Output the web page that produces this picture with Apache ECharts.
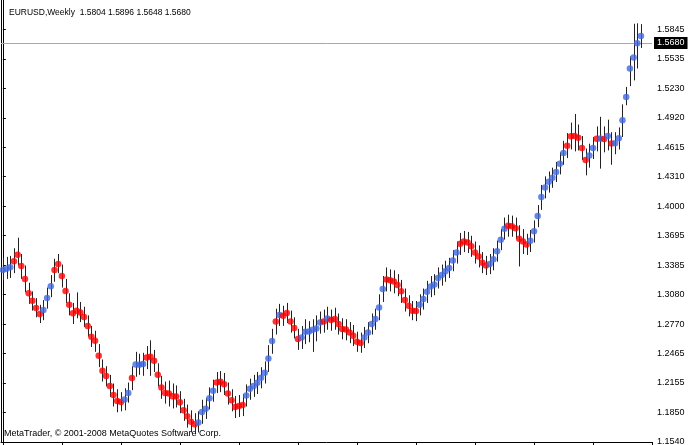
<!DOCTYPE html>
<html>
<head>
<meta charset="utf-8">
<title>EURUSD Weekly</title>
<script src="https://cdn.jsdelivr.net/npm/echarts@6.0.0/dist/echarts.min.js"></script>
<style>
    html, body { margin: 0; padding: 0; background: #fff; }
    #chart { width: 688px; height: 445px; }
</style>
</head>
<body>
<div id="chart"></div>
<script>
// weekly bars, oldest first
var high = [
    1.3460, 1.3470, 1.3480, 1.3560, 1.3670, 1.3500, 1.3380, 1.3200, 1.3110, 1.3040,
    1.2970, 1.3020, 1.3150, 1.3280, 1.3450, 1.3500, 1.3390, 1.3240, 1.3090, 1.2990,
    1.3100, 1.3000, 1.2950, 1.2860, 1.2750, 1.2700, 1.2560, 1.2400, 1.2330, 1.2240,
    1.2150, 1.2090, 1.2060, 1.2100, 1.2160, 1.2330, 1.2480, 1.2460, 1.2470, 1.2540,
    1.2600, 1.2500, 1.2360, 1.2230, 1.2170, 1.2180, 1.2150, 1.2130, 1.2070, 1.1990,
    1.1930, 1.1870, 1.1840, 1.1860, 1.1980, 1.2000, 1.2110, 1.2190, 1.2270, 1.2280,
    1.2260, 1.2160, 1.2090, 1.2020, 1.2030, 1.2040, 1.2140, 1.2200, 1.2240, 1.2270,
    1.2320, 1.2380, 1.2550, 1.2720, 1.2930, 1.2980, 1.2960, 1.2990, 1.2910, 1.2840,
    1.2720, 1.2750, 1.2820, 1.2800, 1.2820, 1.2860, 1.2900, 1.2920, 1.2950, 1.2920,
    1.2940, 1.2880, 1.2830, 1.2820, 1.2790, 1.2760, 1.2690, 1.2680, 1.2740, 1.2790,
    1.2880, 1.2930, 1.3080, 1.3270, 1.3360, 1.3340, 1.3330, 1.3290, 1.3230, 1.3140,
    1.3070, 1.3010, 1.3010, 1.3080, 1.3140, 1.3220, 1.3270, 1.3290, 1.3360, 1.3390,
    1.3430, 1.3460, 1.3540, 1.3630, 1.3720, 1.3740, 1.3730, 1.3690, 1.3630, 1.3590,
    1.3520, 1.3480, 1.3500, 1.3560, 1.3640, 1.3760, 1.3880, 1.3910, 1.3900, 1.3880,
    1.3800, 1.3760, 1.3710, 1.3750, 1.3850, 1.4010, 1.4220, 1.4310, 1.4360, 1.4400,
    1.4460, 1.4560, 1.4680, 1.4760, 1.4870, 1.4960, 1.4850, 1.4730, 1.4600, 1.4650,
    1.4720, 1.4830, 1.4930, 1.4830, 1.4900, 1.4770, 1.4770, 1.4820, 1.5060, 1.5242,
    1.5560, 1.5900, 1.5905, 1.5896
];
var low = [
    1.3225, 1.3240, 1.3250, 1.3300, 1.3380, 1.3240, 1.3100, 1.2980, 1.2910, 1.2840,
    1.2780, 1.2810, 1.2930, 1.3050, 1.3210, 1.3300, 1.3150, 1.2990, 1.2860, 1.2770,
    1.2830, 1.2790, 1.2740, 1.2640, 1.2530, 1.2480, 1.2320, 1.2170, 1.2120, 1.2010,
    1.1910, 1.1850, 1.1860, 1.1870, 1.1950, 1.2080, 1.2220, 1.2240, 1.2230, 1.2300,
    1.2230, 1.2270, 1.2120, 1.1990, 1.1940, 1.1910, 1.1890, 1.1900, 1.1840, 1.1760,
    1.1690, 1.1640, 1.1620, 1.1640, 1.1730, 1.1780, 1.1880, 1.1960, 1.2050, 1.2060,
    1.2030, 1.1930, 1.1860, 1.1790, 1.1800, 1.1810, 1.1910, 1.1980, 1.2010, 1.2040,
    1.2100, 1.2150, 1.2270, 1.2460, 1.2660, 1.2750, 1.2750, 1.2780, 1.2680, 1.2620,
    1.2500, 1.2510, 1.2560, 1.2580, 1.2480, 1.2590, 1.2670, 1.2680, 1.2710, 1.2700,
    1.2710, 1.2660, 1.2610, 1.2600, 1.2570, 1.2540, 1.2480, 1.2470, 1.2520, 1.2570,
    1.2660, 1.2710, 1.2810, 1.3000, 1.3110, 1.3110, 1.3090, 1.3060, 1.2990, 1.2900,
    1.2850, 1.2810, 1.2800, 1.2860, 1.2920, 1.2990, 1.3050, 1.3070, 1.3140, 1.3170,
    1.3210, 1.3250, 1.3320, 1.3400, 1.3490, 1.3520, 1.3510, 1.3470, 1.3400, 1.3360,
    1.3300, 1.3280, 1.3290, 1.3330, 1.3420, 1.3540, 1.3650, 1.3680, 1.3680, 1.3660,
    1.3370, 1.3500, 1.3490, 1.3520, 1.3620, 1.3780, 1.3960, 1.4080, 1.4140, 1.4190,
    1.4250, 1.4330, 1.4430, 1.4500, 1.4590, 1.4570, 1.4580, 1.4480, 1.4320, 1.4400,
    1.4490, 1.4570, 1.4390, 1.4560, 1.4580, 1.4430, 1.4540, 1.4590, 1.4720, 1.5051,
    1.5250, 1.5310, 1.5434, 1.5648
];
// the coloured dot drawn on every bar
var signal = [
    1.3334, 1.3345, 1.3361, 1.3424, 1.3491, 1.3376, 1.3240, 1.3090, 1.3013, 1.2937,
    1.2874, 1.2916, 1.3042, 1.3163, 1.3334, 1.3397, 1.3271, 1.3115, 1.2972, 1.2881,
    1.2909, 1.2891, 1.2843, 1.2749, 1.2637, 1.2595, 1.2439, 1.2282, 1.2227, 1.2125,
    1.2031, 1.1968, 1.1958, 1.1982, 1.2052, 1.2206, 1.2348, 1.2345, 1.2352, 1.2421,
    1.2428, 1.2386, 1.2240, 1.2107, 1.2052, 1.2045, 1.2018, 1.2015, 1.1955, 1.1871,
    1.1809, 1.1752, 1.1725, 1.1742, 1.1854, 1.1887, 1.1997, 1.2073, 1.2160, 1.2167,
    1.2143, 1.2045, 1.1976, 1.1906, 1.1916, 1.1927, 1.2024, 1.2094, 1.2125, 1.2157,
    1.2209, 1.2261, 1.2410, 1.2592, 1.2797, 1.2864, 1.2857, 1.2885, 1.2797, 1.2728,
    1.2613, 1.2630, 1.2689, 1.2692, 1.2710, 1.2724, 1.2787, 1.2797, 1.2828, 1.2812,
    1.2822, 1.2770, 1.2718, 1.2712, 1.2682, 1.2648, 1.2585, 1.2571, 1.2630, 1.2682,
    1.2770, 1.2822, 1.2943, 1.3136, 1.3233, 1.3225, 1.3212, 1.3177, 1.3111, 1.3021,
    1.2961, 1.2909, 1.2905, 1.2972, 1.3031, 1.3107, 1.3160, 1.3181, 1.3251, 1.3282,
    1.3320, 1.3355, 1.3431, 1.3515, 1.3606, 1.3630, 1.3619, 1.3581, 1.3515, 1.3473,
    1.3410, 1.3379, 1.3397, 1.3445, 1.3528, 1.3648, 1.3763, 1.3794, 1.3790, 1.3769,
    1.3658, 1.3630, 1.3598, 1.3637, 1.3737, 1.3896, 1.4093, 1.4194, 1.4252, 1.4295,
    1.4354, 1.4442, 1.4552, 1.4628, 1.4727, 1.4730, 1.4713, 1.4605, 1.4479, 1.4526,
    1.4605, 1.4701, 1.4703, 1.4699, 1.4730, 1.4651, 1.4655, 1.4706, 1.4894, 1.5138,
    1.5434, 1.5549, 1.5696, 1.5772
];
// 1 = blue (up), 0 = red (down)
var trend = [
    1, 1, 1, 0, 0, 0, 0, 0, 0, 0,
    0, 1, 1, 1, 0, 0, 0, 0, 0, 0,
    0, 0, 0, 0, 0, 0, 0, 0, 0, 0,
    0, 0, 0, 1, 1, 0, 1, 1, 1, 0,
    0, 0, 0, 0, 0, 0, 0, 0, 0, 0,
    0, 0, 0, 1, 1, 1, 1, 1, 0, 0,
    0, 0, 0, 0, 0, 0, 1, 1, 1, 1,
    1, 1, 1, 1, 0, 1, 0, 0, 0, 0,
    0, 1, 1, 1, 1, 1, 1, 0, 1, 0,
    0, 0, 0, 0, 0, 0, 0, 0, 1, 1,
    1, 1, 1, 1, 0, 0, 0, 0, 0, 0,
    0, 0, 0, 1, 1, 1, 1, 1, 1, 1,
    1, 1, 1, 1, 0, 0, 0, 0, 0, 0,
    0, 0, 1, 1, 1, 1, 1, 0, 0, 0,
    0, 0, 0, 1, 1, 1, 1, 1, 1, 1,
    1, 1, 1, 0, 0, 0, 0, 0, 0, 1,
    1, 0, 1, 0, 1, 0, 1, 1, 1, 1,
    1, 1, 1, 1
];
// last bar: open, high, low, close
var lastOHLC = [1.5804, 1.5896, 1.5648, 1.5680];
var priceTicks = [1.1540, 1.1850, 1.2155, 1.2465, 1.2770, 1.3080, 1.3385, 1.3695,
    1.4000, 1.4310, 1.4615, 1.4920, 1.5230, 1.5535, 1.5845];
// time separators, in bars
var timeTicks = [0, 16, 32, 48, 64, 80, 96, 112, 128, 144, 160, 176];

var FONT = 'Liberation Sans';
var BLUE = '#4169e1';
var RED = '#ff0000';

var barData = [];
var dotData = [];
for (var i = 0; i < high.length; i++) {
    barData.push([i, high[i], low[i]]);
    dotData.push([i, signal[i], trend[i]]);
}

// one vertical high-low stroke per week
function renderBar(params, api) {
    var x = api.value(0);
    var top = api.coord([x, api.value(1)]);
    var bottom = api.coord([x, api.value(2)]);
    var px = Math.round(top[0]) + 0.5;
    return {
        type: 'line',
        shape: { x1: px, y1: top[1], x2: px, y2: bottom[1] },
        style: { stroke: '#222', lineWidth: 1 }
    };
}

var myChart = echarts.init(document.getElementById('chart'), null, { renderer: 'canvas' });
var option = {
    animation: false,
    backgroundColor: '#fff',
    title: {
        text: 'EURUSD,Weekly  ' + lastOHLC.map(function(v) { return v.toFixed(4); }).join(' '),
        left: 4,
        top: 3,
        textStyle: { fontFamily: FONT, fontSize: 8.5, fontWeight: 'normal', color: '#000' }
    },
    graphic: [{
        type: 'text',
        left: 4,
        top: 429,
        style: {
            text: 'MetaTrader, © 2001-2008 MetaQuotes Software Corp.',
            fontFamily: FONT,
            fontSize: 9,
            fill: '#000'
        }
    }],
    grid: {
        left: 1,
        right: 36,
        top: 0,
        bottom: 3,
        outerBoundsMode: 'none'
    },
    xAxis: {
        type: 'value',
        min: -0.5,
        max: 176,
        axisLine: { show: true, lineStyle: { color: '#000', width: 1 } },
        axisTick: { show: true, customValues: timeTicks, length: 4, lineStyle: { color: '#000' } },
        axisLabel: { show: false },
        splitLine: { show: false }
    },
    yAxis: [{
        type: 'value',
        position: 'right',
        min: 1.1540,
        max: 1.6148,
        axisLine: { show: true, lineStyle: { color: '#000', width: 1 } },
        axisTick: { show: true, customValues: priceTicks, length: 3, lineStyle: { color: '#000' } },
        axisLabel: {
            customValues: priceTicks,
            margin: 5,
            fontFamily: FONT,
            fontSize: 9,
            color: '#000',
            formatter: function(v) { return v.toFixed(4); }
        },
        splitLine: { show: false }
    }, {
        // left frame line only
        type: 'value',
        position: 'left',
        min: 1.1540,
        max: 1.6148,
        axisLine: { show: true, lineStyle: { color: '#000', width: 1 } },
        axisTick: { show: false },
        axisLabel: { show: false },
        splitLine: { show: false }
    }],
    series: [{
        type: 'custom',
        name: 'bars',
        renderItem: renderBar,
        encode: { x: 0, y: [1, 2] },
        data: barData,
        silent: true,
        z: 2
    }, {
        type: 'scatter',
        name: 'signal',
        data: dotData,
        symbol: 'circle',
        symbolSize: 6.5,
        silent: true,
        z: 3,
        itemStyle: {
            color: function(p) { return p.data[2] ? BLUE : RED; }
        },
        markLine: {
            silent: true,
            symbol: ['none', 'none'],
            data: [{ yAxis: lastOHLC[3] }],
            lineStyle: { color: '#a8a8a8', width: 1, type: 'solid' },
            label: {
                position: 'end',
                distance: 2,
                formatter: lastOHLC[3].toFixed(4),
                fontFamily: FONT,
                fontSize: 9,
                color: '#fff',
                backgroundColor: '#000',
                padding: [2, 3, 1, 3]
            },
            z: 1
        }
    }]
};
myChart.setOption(option);
</script>
</body>
</html>
